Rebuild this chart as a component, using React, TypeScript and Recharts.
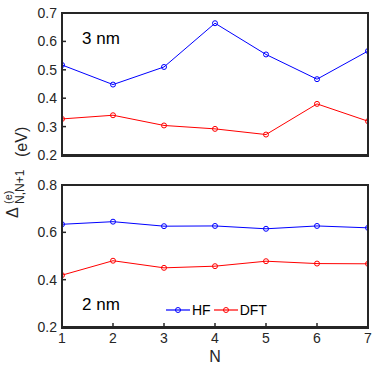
import { LineChart, Line, XAxis, YAxis } from "recharts";

const N_VALUES = [1, 2, 3, 4, 5, 6, 7];
const HF_3NM = [0.517, 0.448, 0.51, 0.664, 0.554, 0.467, 0.566];
const DFT_3NM = [0.327, 0.34, 0.304, 0.292, 0.272, 0.38, 0.319];
const HF_2NM = [0.634, 0.645, 0.626, 0.627, 0.615, 0.627, 0.619];
const DFT_2NM = [0.419, 0.48, 0.45, 0.457, 0.478, 0.468, 0.467];

const X_TICKS = [1, 2, 3, 4, 5, 6, 7];
const Y_TICKS_3NM = [0.2, 0.3, 0.4, 0.5, 0.6, 0.7];
const Y_TICKS_2NM = [0.2, 0.4, 0.6, 0.8];

const INK = "#262626";
const BLUE = "#0000ff";
const RED = "#ff0000";

const rows3 = N_VALUES.map((n, i) => ({ n, hf: HF_3NM[i], dft: DFT_3NM[i] }));
const rows2 = N_VALUES.map((n, i) => ({ n, hf: HF_2NM[i], dft: DFT_2NM[i] }));

const frame = { stroke: INK, strokeWidth: 2 };
const tickStroke = { stroke: INK, strokeWidth: 1.5 };
const tickFont = { fill: INK, fontSize: 14 };

type Row = { n: number; hf: number; dft: number };

function LegendBox() {
    const items = [
        { name: "HF", color: BLUE },
        { name: "DFT", color: RED },
    ];
    return (
        <div style={{ display: "flex", alignItems: "center", fontSize: 14, color: "#000" }}>
            {items.map((it) => (
                <div key={it.name} style={{ display: "flex", alignItems: "center", marginRight: 3 }}>
                    <svg width={24} height={10}>
                        <line x1={0} y1={5} x2={24} y2={5} stroke={it.color} strokeWidth={1.2} />
                        <circle cx={12} cy={5} r={2.5} stroke={it.color} fill="none" strokeWidth={1} />
                    </svg>
                    <span style={{ marginLeft: 2 }}>{it.name}</span>
                </div>
            ))}
        </div>
    );
}

function SeriesChart({
    data,
    dataKey,
    color,
    visibleAxes,
    showXLabels,
    yDomain,
    yTicks,
    height,
    top,
    bottomAxisHeight,
}: {
    data: Row[];
    dataKey: "hf" | "dft";
    color: string;
    visibleAxes: boolean;
    showXLabels: boolean;
    yDomain: [number, number];
    yTicks: number[];
    height: number;
    top: number;
    bottomAxisHeight: number;
}) {
    const line = visibleAxes ? frame : false;
    const tl = visibleAxes ? tickStroke : false;
    return (
        <LineChart
            width={374}
            height={height}
            data={data}
            margin={{ top, right: 5, bottom: 0, left: 0 }}
        >
            <XAxis
                dataKey="n"
                type="number"
                domain={[1, 7]}
                ticks={X_TICKS}
                allowDataOverflow
                axisLine={line}
                tickLine={tl}
                tickSize={-4}
                tickMargin={10}
                height={bottomAxisHeight}
                tick={visibleAxes && showXLabels ? tickFont : false}
            />
            <XAxis
                xAxisId="t"
                orientation="top"
                dataKey="n"
                type="number"
                domain={[1, 7]}
                ticks={X_TICKS}
                allowDataOverflow
                axisLine={line}
                tickLine={tl}
                tickSize={-4}
                height={1}
                tick={false}
            />
            <YAxis
                type="number"
                domain={yDomain}
                ticks={yTicks}
                allowDataOverflow
                axisLine={line}
                tickLine={tl}
                tickSize={-4}
                tickMargin={9}
                width={62}
                interval={0}
                tick={visibleAxes ? tickFont : false}
            />
            <YAxis
                yAxisId="r"
                orientation="right"
                type="number"
                domain={yDomain}
                ticks={yTicks}
                allowDataOverflow
                axisLine={line}
                tickLine={tl}
                tickSize={-4}
                width={1}
                tick={false}
            />
            <Line
                dataKey={dataKey}
                stroke={color}
                dot={{ r: 2.5, stroke: color, fill: "none" }}
                isAnimationActive={false}
            />
        </LineChart>
    );
}

function Panel(props: {
    data: Row[];
    yDomain: [number, number];
    yTicks: number[];
    height: number;
    top: number;
    bottomAxisHeight: number;
    showXLabels: boolean;
    pageTop: number;
}) {
    const { pageTop, ...rest } = props;
    return (
        <>
            <div style={{ position: "absolute", left: 0, top: pageTop }}>
                <SeriesChart {...rest} dataKey="hf" color={BLUE} visibleAxes />
            </div>
            <div style={{ position: "absolute", left: 0, top: pageTop }}>
                <SeriesChart {...rest} dataKey="dft" color={RED} visibleAxes={false} />
            </div>
            {/* box drawn around the plot area, matching the chart margins above */}
            <div
                style={{
                    position: "absolute",
                    left: 61,
                    top: pageTop + props.top,
                    width: 308,
                    height: props.height - props.top - props.bottomAxisHeight + 2,
                    boxSizing: "border-box",
                    border: `2px solid ${INK}`,
                    pointerEvents: "none",
                }}
            />
        </>
    );
}

export default function App() {
    return (
        <div
            style={{
                position: "absolute",
                left: 0,
                top: 0,
                width: 374,
                height: 369,
                fontFamily: "'Liberation Sans', Arial, Helvetica, sans-serif",
            }}
        >
            <Panel
                data={rows3}
                yDomain={[0.2, 0.7]}
                yTicks={Y_TICKS_3NM}
                height={165}
                top={12}
                bottomAxisHeight={10}
                showXLabels={false}
                pageTop={0}
            />
            <Panel
                data={rows2}
                yDomain={[0.2, 0.8]}
                yTicks={Y_TICKS_2NM}
                height={204}
                top={19}
                bottomAxisHeight={42}
                showXLabels
                pageTop={165}
            />
            <div style={{ position: "absolute", left: 166, top: 302 }}>
                <LegendBox />
            </div>
            <svg
                width={374}
                height={369}
                style={{ position: "absolute", left: 0, top: 0, pointerEvents: "none" }}
            >
                <text x={82} y={43.5} fontSize={17} fill="#000">3 nm</text>
                <text x={82} y={310} fontSize={17} fill="#000">2 nm</text>
                <text x={215} y={362} fontSize={16} fill={INK} textAnchor="middle">N</text>
                <g transform="rotate(-90)" fill={INK}>
                    <text x={-218} y={17.5} fontSize={16}>Δ</text>
                    <text x={-204} y={12} fontSize={11}>(e)</text>
                    <text x={-204} y={24} fontSize={12}>N,N+1</text>
                    <text x={-157} y={27} fontSize={16}>(eV)</text>
                </g>
            </svg>
        </div>
    );
}
